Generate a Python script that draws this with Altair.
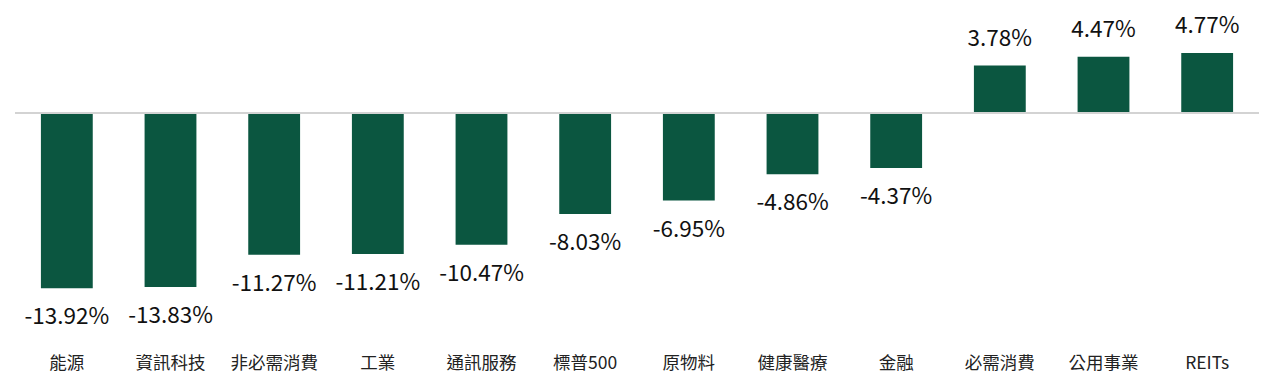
import altair as alt
import pandas as pd

categories = ["能源", "資訊科技", "非必需消費", "工業", "通訊服務", "標普500",
              "原物料", "健康醫療", "金融", "必需消費", "公用事業", "REITs"]
values = [-13.92, -13.83, -11.27, -11.21, -10.47, -8.03,
          -6.95, -4.86, -4.37, 3.78, 4.47, 4.77]

df = pd.DataFrame({"cat": categories, "val": values})
df["label"] = [f"{v:.2f}%" for v in values]

FONT = "Noto Sans CJK TC"
GREEN = "#0b5640"
DOMAIN = [-18.2, 7.64]

x = alt.X("cat:N", sort=categories, title=None,
          scale=alt.Scale(paddingInner=0.5, paddingOuter=0.25),
          axis=alt.Axis(orient="bottom", domain=False, ticks=False, labelAngle=0,
                        labelFont=FONT, labelFontSize=17.5, labelColor="#222222",
                        labelPadding=12, grid=False))
y = alt.Y("val:Q", title=None, scale=alt.Scale(domain=DOMAIN, nice=False, zero=False),
          axis=None)

base = alt.Chart(df)

bars = base.mark_bar(color=GREEN).encode(x=x, y=y, y2=alt.datum(0))

zero = alt.Chart(pd.DataFrame({"z": [0]})).mark_rule(color="#d3d3d3", strokeWidth=2).encode(
    y=alt.Y("z:Q", scale=alt.Scale(domain=DOMAIN, nice=False, zero=False), axis=None))

pos = base.transform_filter("datum.val >= 0").mark_text(
    font=FONT, fontSize=22.5, color="#111111", baseline="middle", dy=-27
).encode(x=x, y=y, text="label:N")

neg = base.transform_filter("datum.val < 0").mark_text(
    font=FONT, fontSize=22.5, color="#111111", baseline="middle", dy=29
).encode(x=x, y=y, text="label:N")

chart = alt.layer(bars, zero, pos, neg).properties(
    width=1244, height=325, padding={"left": 6, "top": 7, "right": 5, "bottom": 5},
    background="white"
).configure_view(stroke=None, strokeWidth=0)

chart.save("out.html", embed_options={"renderer": "svg", "actions": False})
